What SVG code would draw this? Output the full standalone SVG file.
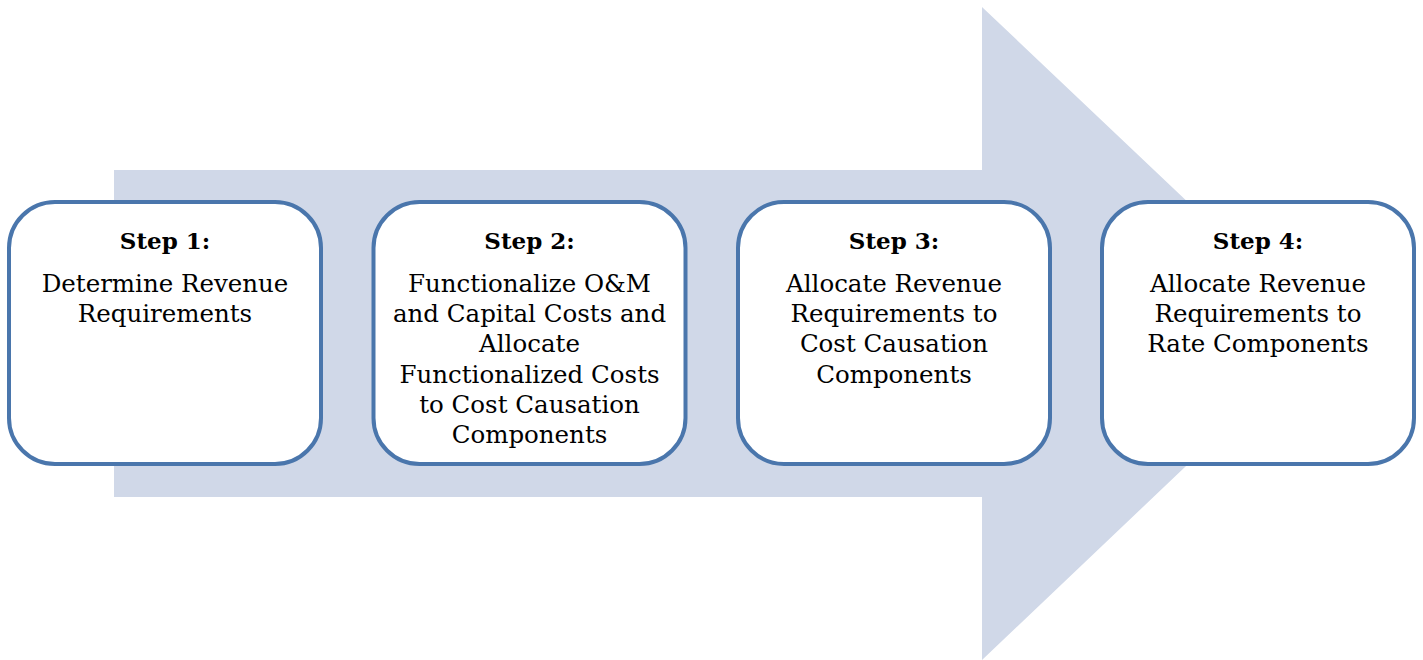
<svg xmlns="http://www.w3.org/2000/svg" width="1423" height="660" viewBox="0 0 1423 660">
  <style>
    .box { fill: #ffffff; stroke: #4a76ac; stroke-width: 4; }
    .title { font-family: "DejaVu Serif", "Liberation Serif", serif; font-weight: bold; font-size: 23px; fill: #000; text-anchor: middle; }
    .body { font-family: "DejaVu Serif", "Liberation Serif", serif; font-size: 24.5px; fill: #000; text-anchor: middle; }
  </style>
  <rect width="1423" height="660" fill="#ffffff"/>
  <!-- background process arrow -->
  <g id="connectors">
    <polygon points="114,170 982,170 982,7 1326,333 982,660 982,497 114,497" fill="#d0d8e8"/>
  </g>
  <g id="step1">
    <rect class="box" x="9" y="202" width="312" height="262" rx="46" ry="46"/>
    <text class="title" x="165" y="249">Step 1:</text>
    <text class="body" x="165" y="292">Determine Revenue</text>
    <text class="body" x="165" y="322">Requirements</text>
  </g>
  <g id="step2">
    <rect class="box" x="373.5" y="202" width="312" height="262" rx="46" ry="46"/>
    <text class="title" x="529.5" y="249">Step 2:</text>
    <text class="body" x="529.5" y="292">Functionalize O&amp;M</text>
    <text class="body" x="529.5" y="322">and Capital Costs and</text>
    <text class="body" x="529.5" y="352">Allocate</text>
    <text class="body" x="529.5" y="383">Functionalized Costs</text>
    <text class="body" x="529.5" y="413">to Cost Causation</text>
    <text class="body" x="529.5" y="443">Components</text>
  </g>
  <g id="step3">
    <rect class="box" x="738" y="202" width="312" height="262" rx="46" ry="46"/>
    <text class="title" x="894" y="249">Step 3:</text>
    <text class="body" x="894" y="292">Allocate Revenue</text>
    <text class="body" x="894" y="322">Requirements to</text>
    <text class="body" x="894" y="352">Cost Causation</text>
    <text class="body" x="894" y="383">Components</text>
  </g>
  <g id="step4">
    <rect class="box" x="1102" y="202" width="312" height="262" rx="46" ry="46"/>
    <text class="title" x="1258" y="249">Step 4:</text>
    <text class="body" x="1258" y="292">Allocate Revenue</text>
    <text class="body" x="1258" y="322">Requirements to</text>
    <text class="body" x="1258" y="352">Rate Components</text>
  </g>
</svg>
